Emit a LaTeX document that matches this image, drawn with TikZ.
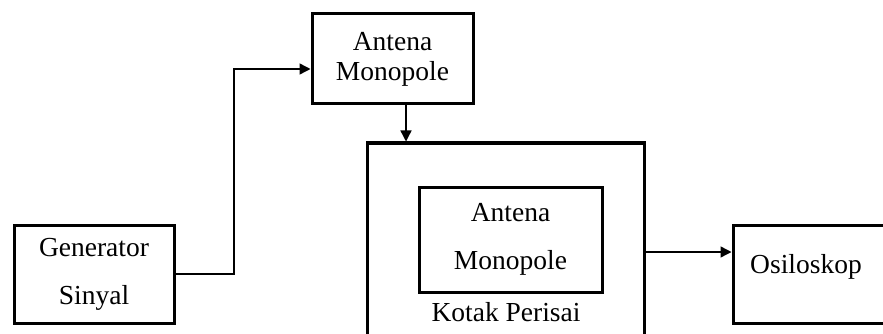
\documentclass[tikz,border=0pt]{standalone}
\usepackage{fontspec}
\setmainfont{Liberation Serif}
\usetikzlibrary{arrows.meta,calc}
\begin{document}
\begin{tikzpicture}[x=1pt,y=-1pt,
  box/.style={draw=black,line width=3pt,inner sep=0pt,align=center},
  conn/.style={line width=1.4pt,-{Triangle[length=11pt,width=11pt]}},
  txt/.style={inner sep=0pt,align=center},
  every node/.style={font=\fontsize{27.5}{48}\selectfont}]
\clip (0,0) rectangle (883,334);
\fill[white] (0,0) rectangle (883,334);
% boxes
\node[box,minimum width=160pt,minimum height=98pt] (gen) at (94,274)
  {Generator\\Sinyal};
\node[box,minimum width=161pt,minimum height=90pt,
  font=\fontsize{27.5}{30}\selectfont] (ant1) at (392.5,59) {Antena\\Monopole};
\node[box,minimum width=277pt,minimum height=218pt] (shield) at (505.5,252) {};
\node[box,minimum width=183pt,minimum height=105pt] (inner) at (510.5,239.5)
  {Antena\\Monopole};
\node[txt] (kotak) at (506,312) {Kotak Perisai};
\node[box,minimum width=167pt,minimum height=98pt] (osc) at (816.5,274) {};
\node[txt] (osctext) at (806,267) {Osiloskop};
% connectors
\coordinate (a1in) at ([yshift=-10pt]ant1.west);
\coordinate (bend) at (234,274);
\draw[conn] (gen.east) -- (bend) |- (a1in);
\coordinate (a1out) at ([xshift=13.5pt]ant1.south);
\draw[conn] (a1out) -- (a1out |- shield.north);
\draw[conn] (shield.east) -- (osc.west |- shield.east);
\end{tikzpicture}
\end{document}
